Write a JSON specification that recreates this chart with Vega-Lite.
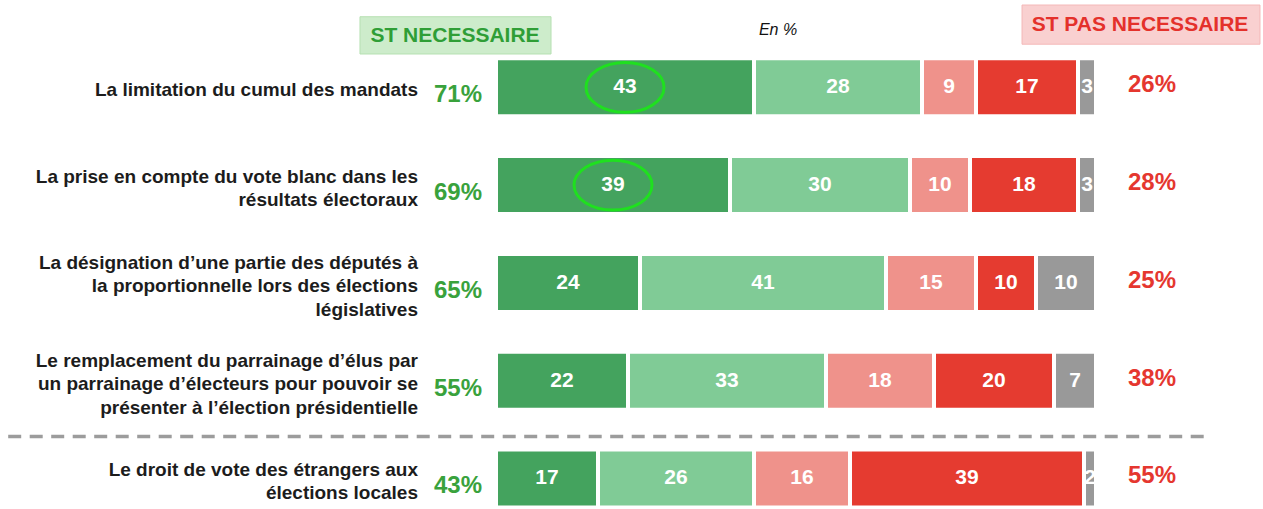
{
  "$schema": "https://vega.github.io/schema/vega-lite/v6.json",
  "width": 1263,
  "height": 509,
  "padding": 0,
  "autosize": {"type": "none"},
  "background": "white",
  "config": {"view": {"stroke": null}, "font": "Liberation Sans"},
  "datasets": {
    "seg": [
      {"row": 1, "k": 1, "cat": "Tout à fait nécessaire", "value": 43},
      {"row": 1, "k": 2, "cat": "Plutôt nécessaire", "value": 28},
      {"row": 1, "k": 3, "cat": "Plutôt pas nécessaire", "value": 9},
      {"row": 1, "k": 4, "cat": "Pas du tout nécessaire", "value": 17},
      {"row": 1, "k": 5, "cat": "Ne se prononce pas", "value": 3},
      {"row": 2, "k": 1, "cat": "Tout à fait nécessaire", "value": 39},
      {"row": 2, "k": 2, "cat": "Plutôt nécessaire", "value": 30},
      {"row": 2, "k": 3, "cat": "Plutôt pas nécessaire", "value": 10},
      {"row": 2, "k": 4, "cat": "Pas du tout nécessaire", "value": 18},
      {"row": 2, "k": 5, "cat": "Ne se prononce pas", "value": 3},
      {"row": 3, "k": 1, "cat": "Tout à fait nécessaire", "value": 24},
      {"row": 3, "k": 2, "cat": "Plutôt nécessaire", "value": 41},
      {"row": 3, "k": 3, "cat": "Plutôt pas nécessaire", "value": 15},
      {"row": 3, "k": 4, "cat": "Pas du tout nécessaire", "value": 10},
      {"row": 3, "k": 5, "cat": "Ne se prononce pas", "value": 10},
      {"row": 4, "k": 1, "cat": "Tout à fait nécessaire", "value": 22},
      {"row": 4, "k": 2, "cat": "Plutôt nécessaire", "value": 33},
      {"row": 4, "k": 3, "cat": "Plutôt pas nécessaire", "value": 18},
      {"row": 4, "k": 4, "cat": "Pas du tout nécessaire", "value": 20},
      {"row": 4, "k": 5, "cat": "Ne se prononce pas", "value": 7},
      {"row": 5, "k": 1, "cat": "Tout à fait nécessaire", "value": 17},
      {"row": 5, "k": 2, "cat": "Plutôt nécessaire", "value": 26},
      {"row": 5, "k": 3, "cat": "Plutôt pas nécessaire", "value": 16},
      {"row": 5, "k": 4, "cat": "Pas du tout nécessaire", "value": 39},
      {"row": 5, "k": 5, "cat": "Ne se prononce pas", "value": 2}
    ],
    "rows": [
      {"row": 1, "label": "La limitation du cumul des mandats", "yes": "71%", "no": "26%"},
      {"row": 2, "label": "La prise en compte du vote blanc dans les|résultats électoraux", "yes": "69%", "no": "28%"},
      {"row": 3, "label": "La désignation d’une partie des députés à|la proportionnelle lors des élections|législatives", "yes": "65%", "no": "25%"},
      {"row": 4, "label": "Le remplacement du parrainage d’élus par|un parrainage d’électeurs pour pouvoir se|présenter à l’élection présidentielle", "yes": "55%", "no": "38%"},
      {"row": 5, "label": "Le droit de vote des étrangers aux|élections locales", "yes": "43%", "no": "55%"}
    ]
  },
  "layer": [
    {
      "data": {"values": [{}]},
      "mark": {"type": "rect", "fill": "#cdeccb", "stroke": "#b6e0b2", "strokeWidth": 1},
      "encoding": {
        "x": {"datum": -22.67, "type": "quantitative", "scale": {"domain": [-82.667, 127.833], "nice": false, "zero": false}, "axis": null},
        "x2": {"datum": 9.17},
        "y": {"datum": 0.278, "type": "quantitative", "scale": {"domain": [0.158, 5.261], "reverse": true, "nice": false, "zero": false}, "axis": null},
        "y2": {"datum": 0.659}
      }
    },
    {
      "data": {"values": [{}]},
      "mark": {"type": "rect", "fill": "#f9d0d0", "stroke": "#f4b8b8", "strokeWidth": 1},
      "encoding": {
        "x": {"datum": 87.67, "type": "quantitative", "scale": {"domain": [-82.667, 127.833], "nice": false, "zero": false}, "axis": null},
        "x2": {"datum": 127.33},
        "y": {"datum": 0.158, "type": "quantitative", "scale": {"domain": [0.158, 5.261], "reverse": true, "nice": false, "zero": false}, "axis": null},
        "y2": {"datum": 0.559}
      }
    },
    {
      "data": {"values": [{"t": "ST NECESSAIRE"}]},
      "mark": {"type": "text", "fontSize": 21, "fontWeight": "bold", "color": "#2f9e36", "align": "center", "baseline": "middle"},
      "encoding": {
        "text": {"field": "t"},
        "x": {"datum": -6.83, "type": "quantitative", "scale": {"domain": [-82.667, 127.833], "nice": false, "zero": false}, "axis": null},
        "y": {"datum": 0.479, "type": "quantitative", "scale": {"domain": [0.158, 5.261], "reverse": true, "nice": false, "zero": false}, "axis": null}
      }
    },
    {
      "data": {"values": [{"t": "ST PAS NECESSAIRE"}]},
      "mark": {"type": "text", "fontSize": 21, "fontWeight": "bold", "color": "#e4312b", "align": "center", "baseline": "middle"},
      "encoding": {
        "text": {"field": "t"},
        "x": {"datum": 107.33, "type": "quantitative", "scale": {"domain": [-82.667, 127.833], "nice": false, "zero": false}, "axis": null},
        "y": {"datum": 0.358, "type": "quantitative", "scale": {"domain": [0.158, 5.261], "reverse": true, "nice": false, "zero": false}, "axis": null}
      }
    },
    {
      "data": {"values": [{"t": "En %"}]},
      "mark": {"type": "text", "fontSize": 16, "fontStyle": "italic", "color": "#111111", "align": "center", "baseline": "middle"},
      "encoding": {
        "text": {"field": "t"},
        "x": {"datum": 47, "type": "quantitative", "scale": {"domain": [-82.667, 127.833], "nice": false, "zero": false}, "axis": null},
        "y": {"datum": 0.409, "type": "quantitative", "scale": {"domain": [0.158, 5.261], "reverse": true, "nice": false, "zero": false}, "axis": null}
      }
    },
    {
      "data": {"values": [{}]},
      "mark": {"type": "rule", "color": "#9c9c9c", "strokeWidth": 3.5, "strokeDash": [13, 8.5]},
      "encoding": {
        "x": {"datum": -81.3, "type": "quantitative", "scale": {"domain": [-82.667, 127.833], "nice": false, "zero": false}, "axis": null},
        "x2": {"datum": 118.2},
        "y": {"datum": 4.57, "type": "quantitative", "scale": {"domain": [0.158, 5.261], "reverse": true, "nice": false, "zero": false}, "axis": null}
      }
    },
    {
      "data": {"name": "seg"},
      "transform": [
        {"stack": "value", "groupby": ["row"], "sort": [{"field": "k", "order": "ascending"}], "as": ["x0", "x1"]},
        {"calculate": "(datum.x0 + datum.x1) / 2", "as": "mid"}
      ],
      "layer": [
        {
          "mark": {"type": "bar", "size": 58, "stroke": "white", "strokeWidth": 4},
          "encoding": {
            "x": {"field": "x0", "type": "quantitative", "scale": {"domain": [-82.667, 127.833], "nice": false, "zero": false}, "axis": null},
            "x2": {"field": "x1"},
            "y": {"field": "row", "type": "quantitative", "scale": {"domain": [0.158, 5.261], "reverse": true, "nice": false, "zero": false}, "axis": null},
            "color": {
              "field": "cat", "type": "nominal", "legend": null,
              "scale": {
                "domain": ["Tout à fait nécessaire", "Plutôt nécessaire", "Plutôt pas nécessaire", "Pas du tout nécessaire", "Ne se prononce pas"],
                "range": ["#44a35e", "#80cb96", "#ef928b", "#e53b30", "#999999"]
              }
            }
          }
        },
        {
          "mark": {"type": "text", "fontSize": 21, "fontWeight": "bold", "color": "white", "align": "center", "baseline": "middle"},
          "encoding": {
            "text": {"field": "value", "type": "quantitative"},
            "x": {"field": "mid", "type": "quantitative", "scale": {"domain": [-82.667, 127.833], "nice": false, "zero": false}, "axis": null},
            "y": {"field": "row", "type": "quantitative", "scale": {"domain": [0.158, 5.261], "reverse": true, "nice": false, "zero": false}, "axis": null}
          }
        },
        {
          "transform": [{"filter": "datum.k == 1 && datum.row <= 2"}],
          "mark": {
            "type": "point", "filled": false, "stroke": "#1fe01f", "strokeWidth": 3, "opacity": 1, "size": 6084,
            "shape": "M -1 0 C -1 -0.3535 -0.5523 -0.64 0 -0.64 C 0.5523 -0.64 1 -0.3535 1 0 C 1 0.3535 0.5523 0.64 0 0.64 C -0.5523 0.64 -1 0.3535 -1 0 Z"
          },
          "encoding": {
            "x": {"field": "mid", "type": "quantitative", "scale": {"domain": [-82.667, 127.833], "nice": false, "zero": false}, "axis": null},
            "y": {"field": "row", "type": "quantitative", "scale": {"domain": [0.158, 5.261], "reverse": true, "nice": false, "zero": false}, "axis": null}
          }
        }
      ]
    },
    {
      "data": {"name": "rows"},
      "layer": [
        {
          "transform": [
            {"calculate": "datum.row - (length(split(datum.label, '|')) - 1) * 0.1178", "as": "ly"}
          ],
          "mark": {"type": "text", "fontSize": 19, "fontWeight": "bold", "color": "#1c1c1c", "align": "right", "baseline": "middle", "lineBreak": "|", "lineHeight": 23.5, "dx": -78, "dy": 3},
          "encoding": {
            "text": {"field": "label"},
            "x": {"datum": 0, "type": "quantitative", "scale": {"domain": [-82.667, 127.833], "nice": false, "zero": false}, "axis": null},
            "y": {"field": "ly", "type": "quantitative", "scale": {"domain": [0.158, 5.261], "reverse": true, "nice": false, "zero": false}, "axis": null}
          }
        },
        {
          "mark": {"type": "text", "fontSize": 24, "fontWeight": "bold", "color": "#39a23c", "align": "right", "baseline": "middle", "dx": -14, "dy": 8},
          "encoding": {
            "text": {"field": "yes"},
            "x": {"datum": 0, "type": "quantitative", "scale": {"domain": [-82.667, 127.833], "nice": false, "zero": false}, "axis": null},
            "y": {"field": "row", "type": "quantitative", "scale": {"domain": [0.158, 5.261], "reverse": true, "nice": false, "zero": false}, "axis": null}
          }
        },
        {
          "mark": {"type": "text", "fontSize": 24, "fontWeight": "bold", "color": "#e5372f", "align": "left", "baseline": "middle", "dx": 32, "dy": -2},
          "encoding": {
            "text": {"field": "no"},
            "x": {"datum": 100, "type": "quantitative", "scale": {"domain": [-82.667, 127.833], "nice": false, "zero": false}, "axis": null},
            "y": {"field": "row", "type": "quantitative", "scale": {"domain": [0.158, 5.261], "reverse": true, "nice": false, "zero": false}, "axis": null}
          }
        }
      ]
    }
  ]
}
